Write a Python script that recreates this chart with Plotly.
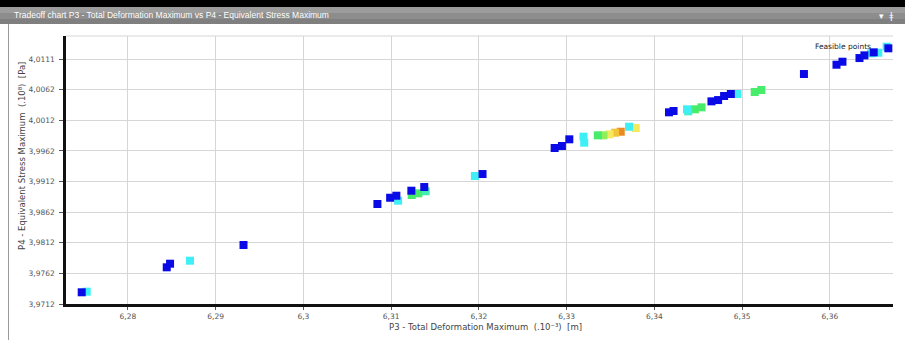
import numpy as np
import plotly.graph_objects as go

# ---- data ----
deformation = [6.27474, 6.27531, 6.28443, 6.28481, 6.28708, 6.29318, 6.30844, 6.30989, 6.31060, 6.31080,
               6.31231, 6.31235, 6.31310, 6.31394, 6.31378, 6.31955, 6.32042, 6.32864, 6.32947, 6.33031,
               6.33193, 6.33201, 6.33356, 6.33420, 6.33489, 6.33553, 6.33617, 6.33712, 6.33788, 6.34167,
               6.34219, 6.34372, 6.34386, 6.34462, 6.34538, 6.34651, 6.34727, 6.34795, 6.34872, 6.34947,
               6.35144, 6.35219, 6.35705, 6.36076, 6.36144, 6.36338, 6.36394, 6.36469, 6.36500, 6.36553,
               6.36648, 6.36667]
stress = [3.97311, 3.97321, 3.97719, 3.97778, 3.97827, 3.98083, 3.98753, 3.98855, 3.98888, 3.98807,
          3.98970, 3.98900, 3.98927, 3.98960, 3.99030, 3.99210, 3.99242, 3.99667, 3.99700, 3.99809,
          3.99852, 3.99754, 3.99874, 3.99874, 3.99891, 3.99917, 3.99933, 4.00015, 3.99993, 4.00250,
          4.00271, 4.00299, 4.00266, 4.00299, 4.00331, 4.00429, 4.00450, 4.00516, 4.00549, 4.00549,
          4.00581, 4.00614, 4.00875, 4.01027, 4.01076, 4.01136, 4.01180, 4.01213, 4.01229, 4.01223,
          4.01321, 4.01295]
score = [0, 0.25, 0, 0, 0.25, 0, 0, 0, 0, 0.25,
         0, 0.45, 0.45, 0.35, 0, 0.25, 0, 0, 0, 0,
         0.25, 0.25, 0.45, 0.55, 0.7, 0.85, 1.0, 0.25, 0.7, 0,
         0, 0.25, 0.3, 0.45, 0.45, 0, 0, 0, 0, 0.25,
         0.45, 0.45, 0, 0, 0, 0, 0, 0.25, 0, 0.25,
         0.25, 0]

x_tickvals = [6.28, 6.29, 6.30, 6.31, 6.32, 6.33, 6.34, 6.35, 6.36]
x_ticktext = ["6,28", "6,29", "6,3", "6,31", "6,32", "6,33", "6,34", "6,35", "6,36"]
y_tickvals = [3.9712, 3.9762, 3.9812, 3.9862, 3.9912, 3.9962, 4.0012, 4.0062, 4.0112]
y_ticktext = ["3,9712", "3,9762", "3,9812", "3,9862", "3,9912", "3,9962", "4,0012", "4,0062", "4,0111"]

title_text = "Tradeoff chart P3 - Total Deformation Maximum vs P4 - Equivalent Stress Maximum"
x_title = "P3 - Total Deformation Maximum  (.10⁻³)  [m]"
y_title = "P4 - Equivalent Stress Maximum  (.10⁸)  [Pa]"

# ---- figure ----
W, H = 905, 340
L, R, T, B = 66, 12, 36, 36
pw, ph = W - L - R, H - T - B


def px(X):
    return (X - L) / pw


def py(Y):
    return (H - B - Y) / ph


order = np.argsort(-np.array(score), kind="stable")
xs = np.array(deformation)[order]
ys = np.array(stress)[order]
cs = np.array(score)[order]

colorscale = [
    [0.0, "#0a0ae6"],
    [0.25, "#3ef0f5"],
    [0.45, "#46ec6a"],
    [0.55, "#90ee5a"],
    [0.7, "#f3ea5e"],
    [0.85, "#f5c33a"],
    [1.0, "#ec8a22"],
]

fig = go.Figure()
fig.add_trace(go.Scatter(
    x=xs, y=ys, mode="markers",
    marker=dict(symbol="square", size=8, color=cs, colorscale=colorscale,
                cmin=0, cmax=1, line=dict(width=0)),
    hoverinfo="x+y", showlegend=False,
))

font = "DejaVu Sans"
shapes = [
    # black band at top
    dict(type="rect", xref="paper", yref="paper", x0=px(0), x1=px(W), y0=py(7), y1=py(-2),
         fillcolor="#000000", line=dict(width=0), layer="above"),
    # gray title bar (slight gradient)
    dict(type="rect", xref="paper", yref="paper", x0=px(0), x1=px(W), y0=py(13), y1=py(7),
         fillcolor="#9c9c9c", line=dict(width=0), layer="above"),
    dict(type="rect", xref="paper", yref="paper", x0=px(0), x1=px(W), y0=py(19), y1=py(13),
         fillcolor="#8d8d8d", line=dict(width=0), layer="above"),
    dict(type="rect", xref="paper", yref="paper", x0=px(0), x1=px(W), y0=py(24), y1=py(19),
         fillcolor="#7f7f7f", line=dict(width=0), layer="above"),
    # left panel border
    dict(type="line", xref="paper", yref="paper", x0=px(8.5), x1=px(8.5), y0=py(24), y1=py(H + 2),
         line=dict(color="#9a9a9a", width=1), layer="above"),
    # top border of plot
    dict(type="line", xref="paper", yref="paper", x0=0, x1=1, y0=1, y1=1,
         line=dict(color="#d6d6d6", width=1), layer="below"),
]

annotations = [
    dict(text=title_text, xref="paper", yref="paper", x=px(12), y=py(15.5), xanchor="left",
         yanchor="middle", showarrow=False, font=dict(family="Liberation Sans", size=8.5, color="#ffffff")),
    dict(text="▾  ǂ", xref="paper", yref="paper", x=px(896), y=py(16), xanchor="right",
         yanchor="middle", showarrow=False, font=dict(family=font, size=9, color="#ffffff")),
    dict(text="Feasible points", xref="paper", yref="paper", x=px(873), y=py(46), xanchor="right",
         yanchor="middle", showarrow=False, font=dict(family=font, size=7.5, color="#222222")),
    dict(text=x_title, xref="paper", yref="paper", x=px(485), y=py(327), xanchor="center",
         yanchor="middle", showarrow=False, font=dict(family=font, size=8.5, color="#444444")),
    dict(text=y_title, xref="paper", yref="paper", x=px(22), y=py(156), xanchor="center",
         yanchor="middle", showarrow=False, textangle=-90,
         font=dict(family=font, size=8.5, color="#444444")),
]

fig.update_layout(
    width=W, height=H,
    margin=dict(l=L, r=R, t=T, b=B, pad=0),
    paper_bgcolor="white", plot_bgcolor="white",
    shapes=shapes, annotations=annotations,
    xaxis=dict(range=[6.27295, 6.3672], tickvals=x_tickvals, ticktext=x_ticktext,
               showgrid=True, gridcolor="#d6d6d6", gridwidth=1, zeroline=False,
               showline=True, linecolor="#111111", linewidth=2.5,
               ticks="outside", ticklen=3, tickcolor="#555555",
               tickfont=dict(family=font, size=7.5, color="#555555")),
    yaxis=dict(range=[3.9712, 4.01496], tickvals=y_tickvals, ticktext=y_ticktext,
               showgrid=True, gridcolor="#d6d6d6", gridwidth=1, zeroline=False,
               showline=True, linecolor="#111111", linewidth=2.5,
               ticks="outside", ticklen=4, tickcolor="#555555", ticklabelstandoff=3,
               tickfont=dict(family=font, size=7.5, color="#555555")),
)

fig.write_html("out.html")
